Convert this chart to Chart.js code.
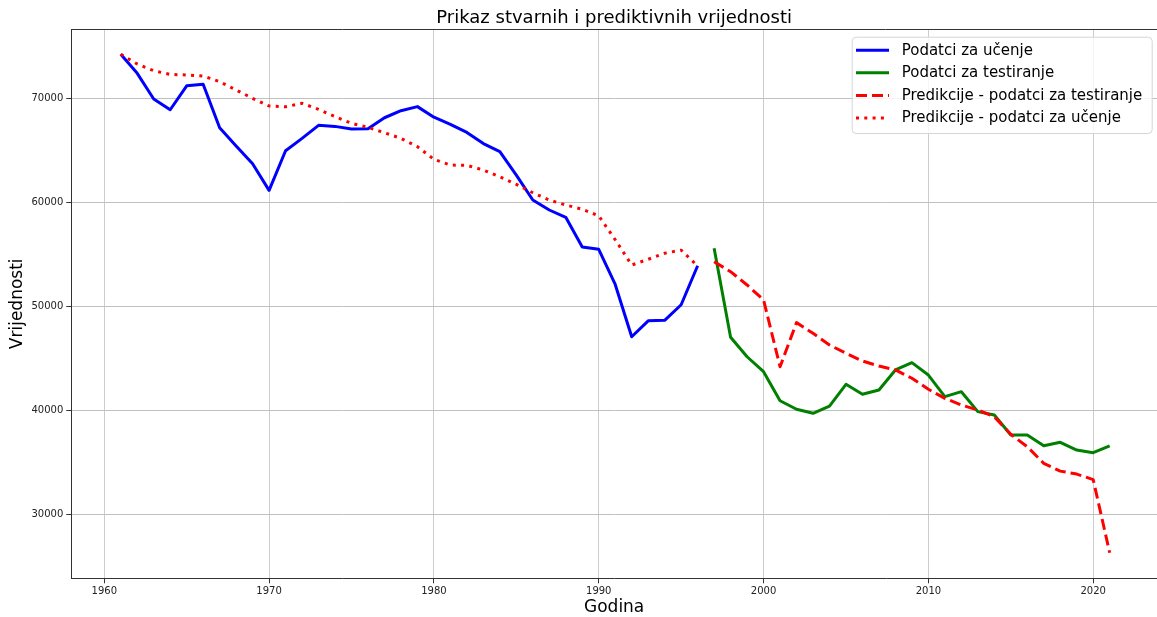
<!DOCTYPE html>
<html>
<head>
<meta charset="utf-8">
<script src="https://cdn.jsdelivr.net/npm/chart.js@4.4.0/dist/chart.umd.min.js"></script>
<style>
html,body{margin:0;padding:0;overflow:hidden;background:#fff;width:1157px;height:617px}
canvas{display:block}
</style>
</head>
<body>
<canvas id="c" width="1157" height="617"></canvas>
<script>
// ---- data ----
const trainYears = [1961,1962,1963,1964,1965,1966,1967,1968,1969,1970,1971,1972,1973,1974,1975,1976,1977,1978,1979,1980,1981,1982,1983,1984,1985,1986,1987,1988,1989,1990,1991,1992,1993,1994,1995,1996];
const trainActual = [74235,72400,69930,68900,71200,71350,67170,65410,63700,61150,64960,66150,67400,67300,67050,67080,68130,68810,69200,68180,67500,66720,65650,64870,62620,60220,59260,58560,55700,55480,52100,47070,48600,48650,50150,53900];
const trainPred = [74235,73300,72650,72300,72240,72140,71600,70800,70000,69260,69190,69520,68940,68230,67600,67210,66690,66150,65350,64130,63580,63560,63100,62460,61730,60920,60220,59740,59330,58700,56400,53970,54520,55100,55400,53880];
const testYears = [1997,1998,1999,2000,2001,2002,2003,2004,2005,2006,2007,2008,2009,2010,2011,2012,2013,2014,2015,2016,2017,2018,2019,2020,2021];
const testActual = [55580,47020,45150,43710,40920,40100,39710,40410,42500,41540,41950,43880,44580,43390,41310,41790,39870,39550,37630,37630,36600,36920,36180,35920,36570];
const testPred = [54290,53330,52050,50610,44190,48430,47400,46280,45480,44740,44260,43880,43080,42020,41150,40510,40030,39380,37690,36500,34900,34150,33870,33330,26300];
const xTicks = [1960,1970,1980,1990,2000,2010,2020];
const yTicks = [30000,40000,50000,60000,70000];
const seriesLabels = ['Podatci za učenje','Podatci za testiranje','Predikcije - podatci za testiranje','Predikcije - podatci za učenje'];
const chartTitle = 'Prikaz stvarnih i prediktivnih vrijednosti';
const xTitle = 'Godina';
const yTitle = 'Vrijednosti';

const pts = (xs, ys) => xs.map((x, i) => ({x: x, y: ys[i]}));
const FONT = "'DejaVu Sans', 'Liberation Sans', sans-serif";

const datasets = [
  {label: seriesLabels[0], data: pts(trainYears, trainActual), borderColor: '#0000ff', borderWidth: 3, borderDash: [], order: 4},
  {label: seriesLabels[1], data: pts(testYears, testActual), borderColor: '#008000', borderWidth: 3, borderDash: [], order: 3},
  {label: seriesLabels[2], data: pts(testYears, testPred), borderColor: '#ff0000', borderWidth: 3, borderDash: [11, 5], order: 2},
  {label: seriesLabels[3], data: pts(trainYears, trainPred), borderColor: '#ff0000', borderWidth: 3, borderDash: [3, 5.3], order: 1}
];
datasets.forEach(d => { d.pointRadius = 0; d.tension = 0; d.fill = false; d.borderCapStyle = 'butt'; d.borderJoinStyle = 'round'; });

// top spine (the right spine lies just outside the visible page)
const framePlugin = {
  id: 'frame',
  afterDraw(chart) {
    const {ctx, chartArea: a} = chart;
    ctx.save();
    ctx.strokeStyle = '#333';
    ctx.lineWidth = 1;
    ctx.beginPath();
    const y = Math.round(a.top) + 0.5;
    ctx.moveTo(Math.round(a.left), y);
    ctx.lineTo(chart.width, y);
    ctx.stroke();
    ctx.restore();
  }
};

const legendPlugin = {
  id: 'mplLegend',
  afterDraw(chart) {
    const {ctx, chartArea: a} = chart;
    const w = 300, h = 96.3;
    const left = a.right - 5.3 - w, top = a.top + 7.4;
    ctx.save();
    ctx.beginPath();
    ctx.roundRect(left + 0.5, top + 0.5, w, h, 4);
    ctx.fillStyle = 'rgba(255,255,255,0.8)';
    ctx.fill();
    ctx.strokeStyle = '#d5d5d5';
    ctx.lineWidth = 1;
    ctx.stroke();
    const legendOrder = [0, 1, 2, 3];
    ctx.font = '15px ' + FONT;
    ctx.textBaseline = 'middle';
    ctx.textAlign = 'left';
    legendOrder.forEach((di, i) => {
      const ds = chart.data.datasets[di];
      const y = top + 13.5 + i * 22.6;
      ctx.beginPath();
      ctx.setLineDash(ds.borderDash || []);
      ctx.lineCap = 'butt';
      ctx.strokeStyle = ds.borderColor;
      ctx.lineWidth = ds.borderWidth;
      ctx.moveTo(left + 4.3, y);
      ctx.lineTo(left + 37.3, y);
      ctx.stroke();
      ctx.setLineDash([]);
      ctx.fillStyle = '#000';
      ctx.fillText(ds.label, left + 50, y + 0.5);
    });
    ctx.restore();
  }
};

new Chart(document.getElementById('c'), {
  type: 'line',
  data: {datasets: datasets},
  options: {
    responsive: false,
    devicePixelRatio: 1,
    animation: false,
    layout: {autoPadding: false, padding: {left: 0, right: 0, top: 0, bottom: 0}},
    plugins: {
      legend: {display: false},
      tooltip: {enabled: false},
      title: {
        display: true, text: chartTitle, color: '#000', fullSize: false,
        font: {family: FONT, size: 18, weight: 'normal', lineHeight: 1.2},
        padding: {top: 7.7, bottom: 0}
      }
    },
    scales: {
      x: {
        type: 'linear', min: 1958, max: 2023.87,
        afterBuildTicks: s => { s.ticks = xTicks.map(v => ({value: v})); },
        afterFit: s => { s.height = 38.7; },
        ticks: {font: {family: FONT, size: 10}, color: '#222', padding: 2, maxRotation: 0, autoSkip: false, callback: v => String(v)},
        grid: {color: '#cccccc', lineWidth: 1, tickLength: 5, tickColor: '#333', drawTicks: true},
        border: {display: true, color: '#333', width: 1},
        title: {display: true, text: xTitle, color: '#000', font: {family: FONT, size: 17, lineHeight: 1}, padding: {top: 0, bottom: 1.4}}
      },
      y: {
        type: 'linear', min: 23846, max: 76635,
        afterBuildTicks: s => { s.ticks = yTicks.map(v => ({value: v})); },
        afterFit: s => { s.width = 71.3; },
        ticks: {font: {family: FONT, size: 10}, color: '#222', padding: 3, callback: v => String(v)},
        grid: {color: '#c0c0c0', lineWidth: 1, tickLength: 5, tickColor: '#333', drawTicks: true},
        border: {display: true, color: '#333', width: 1},
        title: {display: true, text: yTitle, color: '#000', font: {family: FONT, size: 17, lineHeight: 1}, padding: {top: 9.5, bottom: 0}}
      }
    }
  },
  plugins: [framePlugin, legendPlugin]
});
</script>
</body>
</html>
